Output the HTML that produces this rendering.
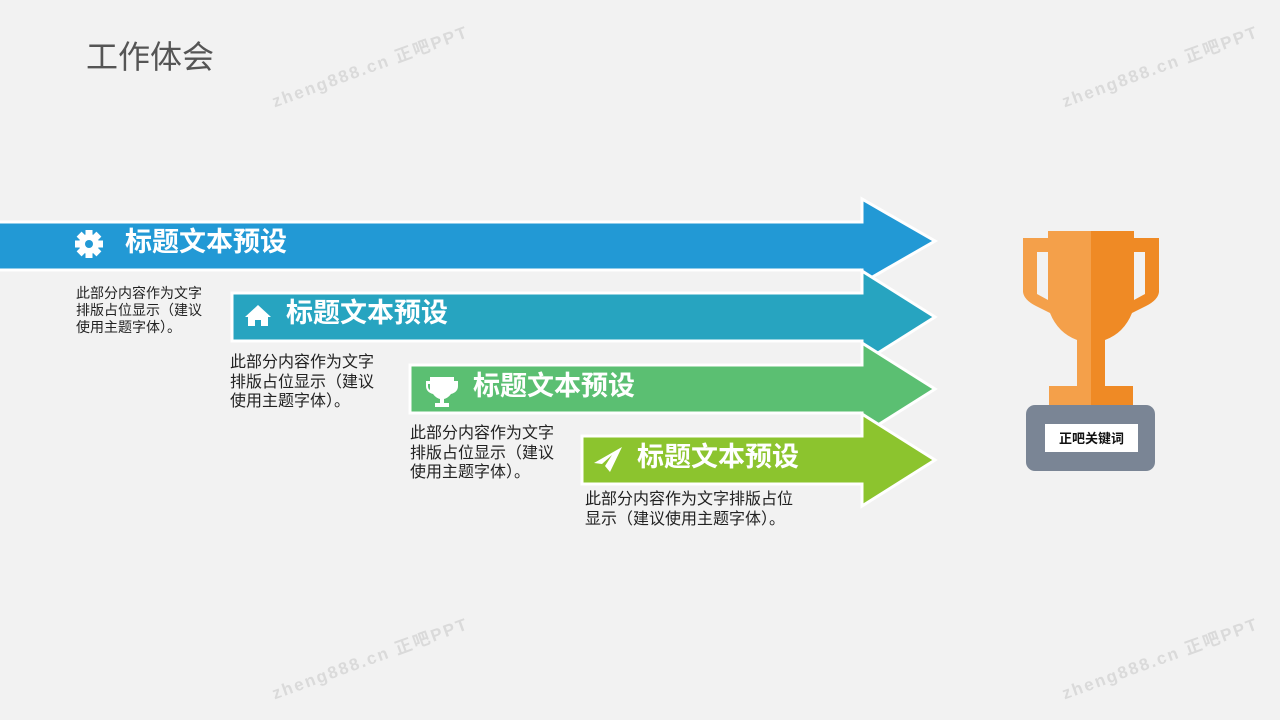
<!DOCTYPE html>
<html><head><meta charset="utf-8"><style>
body{margin:0;width:1280px;height:720px;background:#f2f2f2;overflow:hidden;position:relative;font-family:"Liberation Sans","Microsoft YaHei","Noto Sans CJK SC",sans-serif}
.t{position:absolute;color:#fff;font-weight:bold;font-size:27px;line-height:30px;white-space:nowrap}
.d{position:absolute;color:#222;white-space:nowrap}
.wm{position:absolute;color:#dadada;font-size:17px;font-weight:bold;letter-spacing:2px;transform:rotate(-20deg);transform-origin:left center;white-space:nowrap}
</style></head><body>
<div style="position:absolute;left:86px;top:32px;font-size:32px;color:#555">工作体会</div>
<div class="wm" style="left:272px;top:88px">zheng888.cn 正吧PPT</div>
<div class="wm" style="left:1062px;top:88px">zheng888.cn 正吧PPT</div>
<div class="wm" style="left:272px;top:680px">zheng888.cn 正吧PPT</div>
<div class="wm" style="left:1062px;top:680px">zheng888.cn 正吧PPT</div>
<svg width="1280" height="720" style="position:absolute;left:0;top:0">
<g stroke="#fff" stroke-width="3" stroke-linejoin="miter">
<polygon fill="#2299d5" points="-5,222 862,222 862,199 935,241 862,283 862,270 -5,270"/>
<polygon fill="#27a4c0" points="232,293 862,293 862,271 935,317 862,363 862,341 232,341"/>
<polygon fill="#5bbf72" points="410,365 862,365 862,343 935,389 862,435 862,413 410,413"/>
<polygon fill="#8cc42e" points="582,436 862,436 862,414 935,460 862,506 862,484 582,484"/>
</g>
<g fill="#fff">
<circle cx="89" cy="244" r="10"/>
<g transform="translate(89,244)">
<rect x="-3.5" y="-14" width="7" height="28"/><rect x="-14" y="-3.5" width="28" height="7"/>
<rect x="-3.5" y="-14" width="7" height="28" transform="rotate(45)"/><rect x="-3.5" y="-14" width="7" height="28" transform="rotate(-45)"/>
</g>
<polygon points="258,305 245,317 248,317 248,326 255,326 255,320 261,320 261,326 268,326 268,317 271,317"/>
<path d="M430 377 h24 v4 h4 v5 q0 6 -7 8 q-3 4 -7 5 v4 h5 v4 h-14 v-4 h5 v-4 q-4 -1 -7 -5 q-7 -2 -7 -8 v-5 h4z M430 384 h-2 v2 q0 3 2 4z M454 384 h2 v2 q0 3 -2 4z"/>
<polygon points="594,463 622,447 610,472 605,466 612,455 602,464"/>
</g>
<circle cx="89" cy="244" r="4" fill="#2299d5"/>
<g>
<path fill="#f4a04a" d="M1091 231 H1048 V238 H1023 V292 Q1024 300 1036 306 L1050 313 Q1058 333 1077 340 V386 H1049 V406 H1091 Z"/>
<path fill="#f2f2f2" d="M1037 252 H1048 V300 L1037 294 Z"/>
</g>
<g transform="translate(2182,0) scale(-1,1)">
<path fill="#ef8a25" d="M1091 231 H1048 V238 H1023 V292 Q1024 300 1036 306 L1050 313 Q1058 333 1077 340 V386 H1049 V406 H1091 Z"/>
<path fill="#f2f2f2" d="M1037 252 H1048 V300 L1037 294 Z"/>
</g>
<rect x="1026" y="405" width="129" height="66" rx="9" fill="#7a8595"/>
<rect x="1045" y="424" width="93" height="28" fill="#fff"/>
<text x="1091.5" y="443" text-anchor="middle" font-size="13" font-weight="bold" fill="#111" font-family="Liberation Sans, Noto Sans CJK SC, sans-serif">正吧关键词</text>
</svg>
<div class="t" style="left:125px;top:227px">标题文本预设</div>
<div class="t" style="left:286px;top:298px">标题文本预设</div>
<div class="t" style="left:473px;top:371px">标题文本预设</div>
<div class="t" style="left:637px;top:442px">标题文本预设</div>
<div class="d" style="left:76px;top:285px;font-size:14px;line-height:17px">此部分内容作为文字<br>排版占位显示（建议<br>使用主题字体）。</div>
<div class="d" style="left:230px;top:353px;font-size:16px;line-height:19.5px">此部分内容作为文字<br>排版占位显示（建议<br>使用主题字体）。</div>
<div class="d" style="left:410px;top:424px;font-size:16px;line-height:19.5px">此部分内容作为文字<br>排版占位显示（建议<br>使用主题字体）。</div>
<div class="d" style="left:585px;top:490px;font-size:16px;line-height:20px">此部分内容作为文字排版占位<br>显示（建议使用主题字体）。</div>
</body></html>
